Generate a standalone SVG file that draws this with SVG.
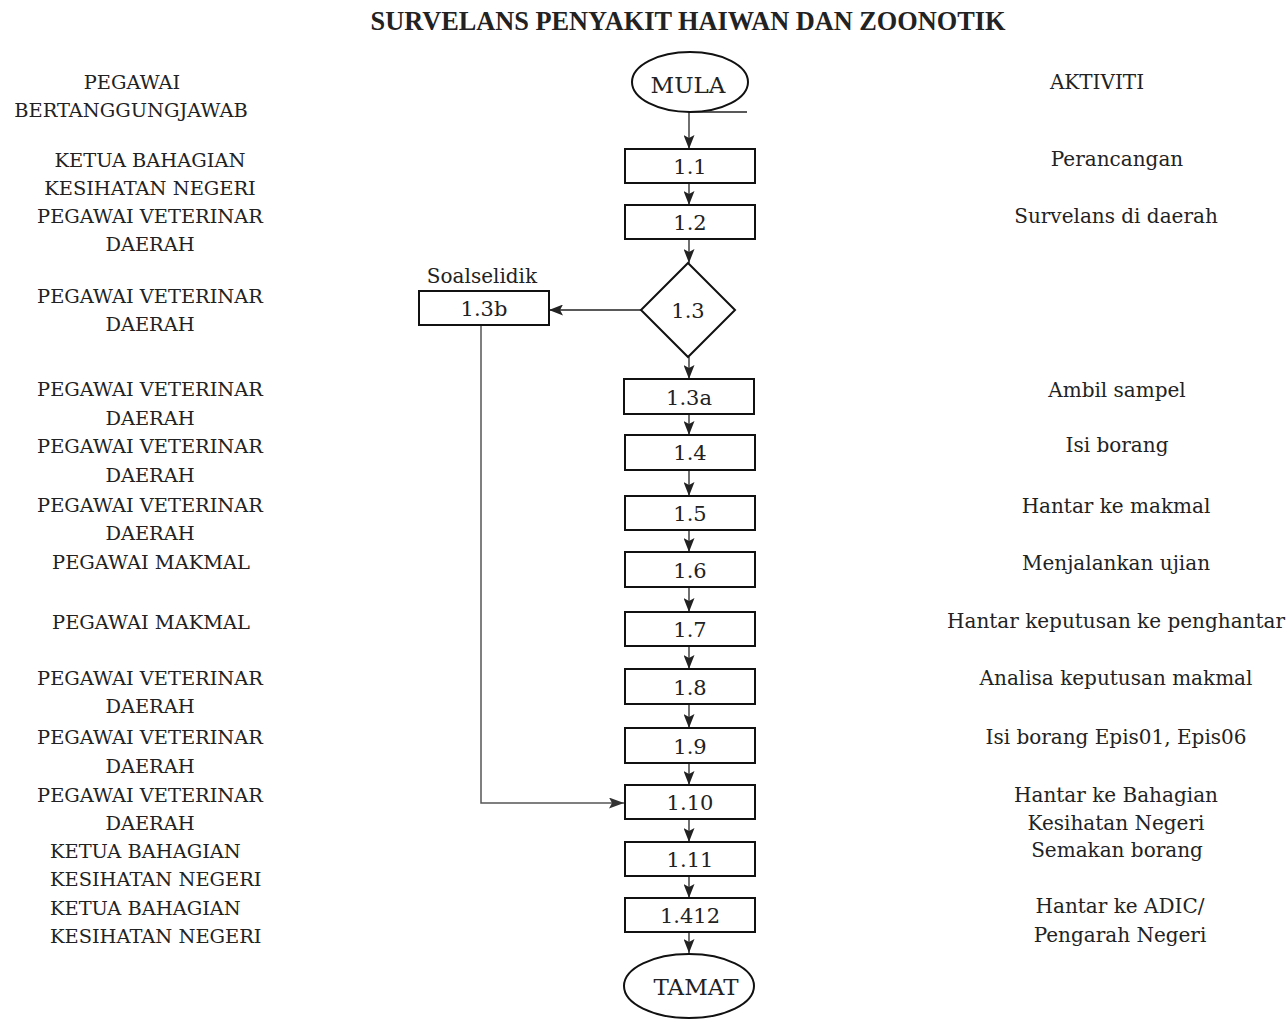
<svg xmlns="http://www.w3.org/2000/svg" width="1288" height="1020" viewBox="0 0 1288 1020">
<style>
  .t { font-family: "DejaVu Serif", "Liberation Serif", serif; font-size: 20px; fill: #222; text-anchor: middle; }
  .r { font-family: "DejaVu Serif", "Liberation Serif", serif; font-size: 19.4px; fill: #222; text-anchor: middle; }
  .rs { font-family: "DejaVu Serif", "Liberation Serif", serif; font-size: 19.4px; fill: #222; text-anchor: start; }
  .lbl { font-family: "DejaVu Serif", "Liberation Serif", serif; font-size: 21px; fill: #222; text-anchor: middle; }
  .term { font-family: "DejaVu Serif", "Liberation Serif", serif; font-size: 23px; fill: #222; text-anchor: middle; }
  .title { font-family: "Liberation Serif", serif; font-weight: bold; font-size: 28px; fill: #222; text-anchor: middle; }
  .box { fill: #fff; stroke: #111; stroke-width: 2; }
  .conn { stroke: #222; stroke-width: 1.3; fill: none; }
  .gray { stroke: #555; stroke-width: 1.5; fill: none; }
</style>
<defs>
  <marker id="ah" markerUnits="userSpaceOnUse" markerWidth="15" markerHeight="11" refX="14" refY="5.5" orient="auto">
    <path d="M0,0 L14,5.5 L0,11 L3,5.5 Z" fill="#222"/>
  </marker>
  <marker id="ahg" markerUnits="userSpaceOnUse" markerWidth="16" markerHeight="11" refX="15" refY="5.5" orient="auto">
    <path d="M0,0 L15,5.5 L0,11 L3,5.5 Z" fill="#333"/>
  </marker>
</defs>
<rect width="1288" height="1020" fill="#fff"/>

<text class="title" x="688" y="30" textLength="635" lengthAdjust="spacingAndGlyphs">SURVELANS PENYAKIT HAIWAN DAN ZOONOTIK</text>

<g id="connectors">
  <line class="conn" x1="690" y1="112" x2="747" y2="112"/>
  <line class="conn" x1="689" y1="112" x2="689" y2="149" marker-end="url(#ah)"/>
  <line class="conn" x1="689" y1="183" x2="689" y2="205" marker-end="url(#ah)"/>
  <line class="conn" x1="689" y1="239" x2="689" y2="263" marker-end="url(#ah)"/>
  <line class="conn" x1="641" y1="310" x2="549" y2="310" marker-end="url(#ah)"/>
  <line class="conn" x1="689" y1="357" x2="689" y2="379" marker-end="url(#ah)"/>
  <line class="conn" x1="689" y1="414" x2="689" y2="435" marker-end="url(#ah)"/>
  <line class="conn" x1="689" y1="470" x2="689" y2="496" marker-end="url(#ah)"/>
  <line class="conn" x1="689" y1="530" x2="689" y2="552" marker-end="url(#ah)"/>
  <line class="conn" x1="689" y1="587" x2="689" y2="612" marker-end="url(#ah)"/>
  <line class="conn" x1="689" y1="646" x2="689" y2="669" marker-end="url(#ah)"/>
  <line class="conn" x1="689" y1="704" x2="689" y2="728" marker-end="url(#ah)"/>
  <line class="conn" x1="689" y1="763" x2="689" y2="785" marker-end="url(#ah)"/>
  <polyline class="gray" points="481,325 481,803 624,803" marker-end="url(#ahg)"/>
  <line class="conn" x1="689" y1="819" x2="689" y2="842" marker-end="url(#ah)"/>
  <line class="conn" x1="689" y1="876" x2="689" y2="898" marker-end="url(#ah)"/>
  <line class="conn" x1="689" y1="932" x2="689" y2="953" marker-end="url(#ah)"/>
</g>

<g id="mula">
  <ellipse class="box" cx="690" cy="82" rx="58" ry="30" stroke-width="1.8"/>
  <text class="term" x="688" y="93">MULA</text>
</g>
<g id="n1-1"><rect class="box" x="625" y="149" width="130" height="34"/><text class="lbl" x="690" y="174">1.1</text></g>
<g id="n1-2"><rect class="box" x="625" y="205" width="130" height="34"/><text class="lbl" x="690" y="230">1.2</text></g>
<g id="n1-3"><polygon class="box" points="688,263 735,310 688,357 641,310"/><text class="lbl" x="688" y="318">1.3</text></g>
<g id="n1-3b">
  <text class="t" x="482" y="283">Soalselidik</text>
  <rect class="box" x="419" y="291" width="130" height="34"/><text class="lbl" x="484" y="316">1.3b</text>
</g>
<g id="n1-3a"><rect class="box" x="624" y="379" width="130" height="35"/><text class="lbl" x="689" y="405">1.3a</text></g>
<g id="n1-4"><rect class="box" x="625" y="435" width="130" height="35"/><text class="lbl" x="690" y="460">1.4</text></g>
<g id="n1-5"><rect class="box" x="625" y="496" width="130" height="34"/><text class="lbl" x="690" y="521">1.5</text></g>
<g id="n1-6"><rect class="box" x="625" y="552" width="130" height="35"/><text class="lbl" x="690" y="578">1.6</text></g>
<g id="n1-7"><rect class="box" x="625" y="612" width="130" height="34"/><text class="lbl" x="690" y="637">1.7</text></g>
<g id="n1-8"><rect class="box" x="625" y="669" width="130" height="35"/><text class="lbl" x="690" y="695">1.8</text></g>
<g id="n1-9"><rect class="box" x="625" y="728" width="130" height="35"/><text class="lbl" x="690" y="754">1.9</text></g>
<g id="n1-10"><rect class="box" x="625" y="785" width="130" height="34"/><text class="lbl" x="690" y="810">1.10</text></g>
<g id="n1-11"><rect class="box" x="625" y="842" width="130" height="34"/><text class="lbl" x="690" y="867">1.11</text></g>
<g id="n1-412"><rect class="box" x="625" y="898" width="130" height="34"/><text class="lbl" x="690" y="923">1.412</text></g>
<g id="tamat">
  <ellipse class="box" cx="689" cy="986" rx="65" ry="32" stroke-width="1.8"/>
  <text class="term" x="696" y="995">TAMAT</text>
</g>

<g id="responsible">
  <text class="r" x="132" y="89">PEGAWAI</text>
  <text class="r" x="131" y="117">BERTANGGUNGJAWAB</text>
  <text class="r" x="150" y="167">KETUA BAHAGIAN</text>
  <text class="r" x="150" y="195">KESIHATAN NEGERI</text>
  <text class="r" x="150" y="223">PEGAWAI VETERINAR</text>
  <text class="r" x="150" y="251">DAERAH</text>
  <text class="r" x="150" y="303">PEGAWAI VETERINAR</text>
  <text class="r" x="150" y="331">DAERAH</text>
  <text class="r" x="150" y="396">PEGAWAI VETERINAR</text>
  <text class="r" x="150" y="425">DAERAH</text>
  <text class="r" x="150" y="453">PEGAWAI VETERINAR</text>
  <text class="r" x="150" y="482">DAERAH</text>
  <text class="r" x="150" y="512">PEGAWAI VETERINAR</text>
  <text class="r" x="150" y="540">DAERAH</text>
  <text class="r" x="151" y="569">PEGAWAI MAKMAL</text>
  <text class="r" x="151" y="629">PEGAWAI MAKMAL</text>
  <text class="r" x="150" y="685">PEGAWAI VETERINAR</text>
  <text class="r" x="150" y="713">DAERAH</text>
  <text class="r" x="150" y="744">PEGAWAI VETERINAR</text>
  <text class="r" x="150" y="773">DAERAH</text>
  <text class="r" x="150" y="802">PEGAWAI VETERINAR</text>
  <text class="r" x="150" y="830">DAERAH</text>
  <text class="rs" x="50" y="858">KETUA BAHAGIAN</text>
  <text class="rs" x="50" y="886">KESIHATAN NEGERI</text>
  <text class="rs" x="50" y="915">KETUA BAHAGIAN</text>
  <text class="rs" x="50" y="943">KESIHATAN NEGERI</text>
</g>

<g id="activities">
  <text class="t" x="1097" y="89">AKTIVITI</text>
  <text class="t" x="1117" y="166">Perancangan</text>
  <text class="t" x="1116" y="223">Survelans di daerah</text>
  <text class="t" x="1117" y="397">Ambil sampel</text>
  <text class="t" x="1117" y="452">Isi borang</text>
  <text class="t" x="1116" y="513">Hantar ke makmal</text>
  <text class="t" x="1116" y="570">Menjalankan ujian</text>
  <text class="t" x="1116" y="628">Hantar keputusan ke penghantar</text>
  <text class="t" x="1116" y="685">Analisa keputusan makmal</text>
  <text class="t" x="1116" y="744">Isi borang Epis01, Epis06</text>
  <text class="t" x="1116" y="802">Hantar ke Bahagian</text>
  <text class="t" x="1116" y="830">Kesihatan Negeri</text>
  <text class="t" x="1117" y="857">Semakan borang</text>
  <text class="t" x="1120" y="913">Hantar ke ADIC/</text>
  <text class="t" x="1120" y="942">Pengarah Negeri</text>
</g>
</svg>
